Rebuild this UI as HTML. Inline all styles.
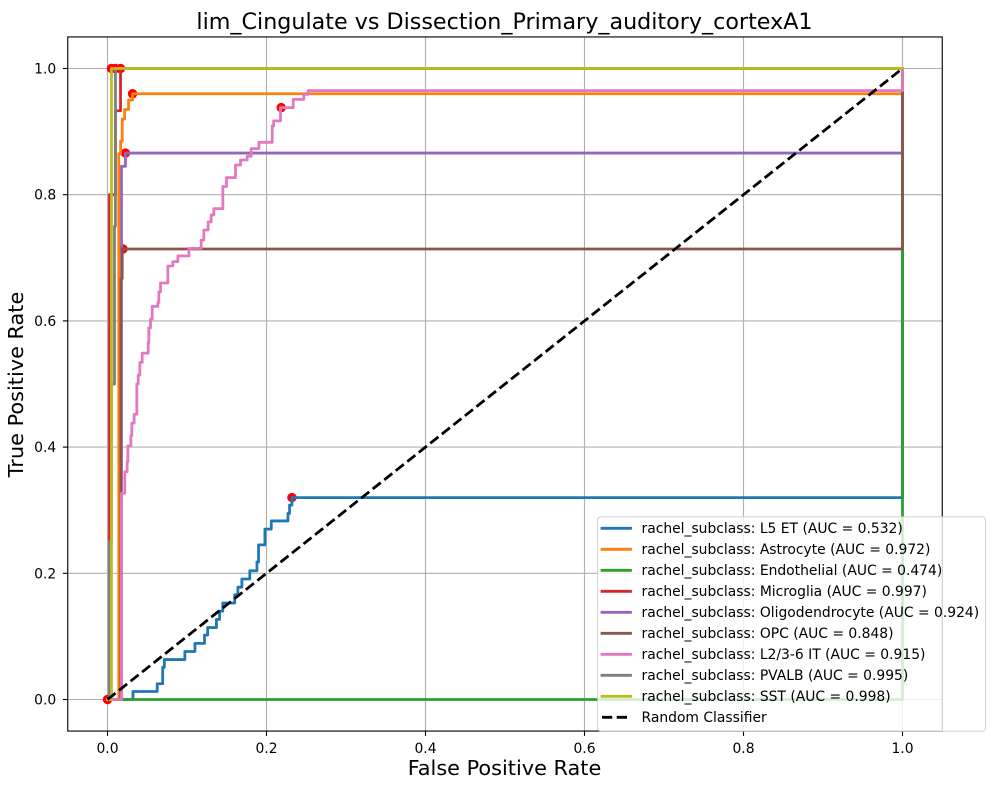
<!DOCTYPE html>
<html>
<head>
<meta charset="utf-8">
<title>lim_Cingulate vs Dissection_Primary_auditory_cortexA1</title>
<style>
html,body{margin:0;padding:0;background:#fff;}
svg{display:block;}
text{font-family:"DejaVu Sans","Liberation Sans",sans-serif;fill:#000;}
</style>
</head>
<body>
<svg id="chart" width="994" height="790" viewBox="0 0 994 790" xmlns="http://www.w3.org/2000/svg"></svg>
<script>
const xTicks = [0.0, 0.2, 0.4, 0.6, 0.8, 1.0];
const yTicks = [0.0, 0.2, 0.4, 0.6, 0.8, 1.0];

const l5Fpr = [0, 0.032, 0.0625, 0.0694, 0.0715, 0.0973, 0.11, 0.122, 0.126, 0.137, 0.141, 0.145, 0.16, 0.164, 0.169, 0.179, 0.188, 0.19, 0.198, 0.206, 0.227, 0.229, 0.232, 1, 1];
const l5Tpr = [0, 0.0127, 0.025, 0.051, 0.0633, 0.076, 0.089, 0.102, 0.114, 0.127, 0.14, 0.153, 0.166, 0.178, 0.191, 0.204, 0.218, 0.245, 0.27, 0.283, 0.295, 0.308, 0.32, 0.32, 1];
const astroFpr = [0, 0.0142, 0.0165, 0.0185, 0.0215, 0.0265, 0.0315, 1, 1];
const astroTpr = [0, 0.865, 0.885, 0.92, 0.935, 0.95, 0.96, 0.96, 1];
const endoFpr = [0, 1, 1];
const endoTpr = [0, 0, 1];
const microFpr = [0, 0.0025, 0.01, 0.0164, 1];
const microTpr = [0, 0.8, 0.933, 1, 1];
const oligoFpr = [0, 0.0176, 0.0226, 1, 1];
const oligoTpr = [0, 0.845, 0.866, 0.866, 1];
const opcFpr = [0, 0.0168, 0.0185, 1, 1];
const opcTpr = [0, 0.667, 0.714, 0.714, 1];
const itFpr = [0, 0.0176, 0.0218, 0.0247, 0.0256, 0.0294, 0.0306, 0.0335, 0.0369, 0.0386, 0.0407, 0.0436, 0.0512, 0.052, 0.0541, 0.0562, 0.0633, 0.0646, 0.0667, 0.0759, 0.0822, 0.0885, 0.1023, 0.1178, 0.1212, 0.1266, 0.1304, 0.1338, 0.1451, 0.1497, 0.161, 0.1673, 0.1757, 0.1807, 0.1904, 0.2072, 0.209, 0.2176, 0.2336, 0.2469, 0.2524, 1, 1];
const itTpr = [0, 0.327, 0.361, 0.377, 0.402, 0.418, 0.438, 0.452, 0.5, 0.514, 0.534, 0.549, 0.565, 0.589, 0.603, 0.623, 0.629, 0.646, 0.66, 0.687, 0.694, 0.703, 0.715, 0.728, 0.744, 0.757, 0.768, 0.778, 0.813, 0.827, 0.847, 0.855, 0.861, 0.873, 0.883, 0.909, 0.917, 0.938, 0.951, 0.959, 0.965, 0.965, 1];
const pvalbFpr = [0, 0.0025, 0.005, 0.0088, 0.01, 1];
const pvalbTpr = [0, 0.25, 0.5, 0.75, 1, 1];
const sstFpr = [0, 0.005, 1];
const sstTpr = [0, 1, 1];
const randomFpr = [0, 1];
const randomTpr = [0, 1];

const seriesNames = ["l5-et", "astrocyte", "endothelial", "microglia", "oligodendrocyte", "opc", "l2-3-6-it", "pvalb", "sst"];
const seriesLabels = ["rachel_subclass: L5 ET (AUC = 0.532)", "rachel_subclass: Astrocyte (AUC = 0.972)", "rachel_subclass: Endothelial (AUC = 0.474)", "rachel_subclass: Microglia (AUC = 0.997)", "rachel_subclass: Oligodendrocyte (AUC = 0.924)", "rachel_subclass: OPC (AUC = 0.848)", "rachel_subclass: L2/3-6 IT (AUC = 0.915)", "rachel_subclass: PVALB (AUC = 0.995)", "rachel_subclass: SST (AUC = 0.998)"];
const seriesColors = ["#1f77b4", "#ff7f0e", "#2ca02c", "#d62728", "#9467bd", "#8c564b", "#e377c2", "#7f7f7f", "#bcbd22"];
const seriesFpr = [l5Fpr, astroFpr, endoFpr, microFpr, oligoFpr, opcFpr, itFpr, pvalbFpr, sstFpr];
const seriesTpr = [l5Tpr, astroTpr, endoTpr, microTpr, oligoTpr, opcTpr, itTpr, pvalbTpr, sstTpr];
const optimalFpr = [0.232, 0.0315, 0, 0.0164, 0.0226, 0.0195, 0.2185, 0.01, 0.005];
const optimalTpr = [0.32, 0.96, 0, 1, 0.866, 0.714, 0.938, 1, 1];

const NS = "http://www.w3.org/2000/svg";
const svg = document.getElementById("chart");
const sx = v => 107.5 + 795 * v;
const sy = v => 699.5 - 631 * v;
const axL = sx(-0.05), axR = sx(1.05), axT = sy(1.05), axB = sy(-0.05);

function mk(tag, attrs, parent) {
  const el = document.createElementNS(NS, tag);
  for (const k in attrs) el.setAttribute(k, attrs[k]);
  (parent || svg).appendChild(el);
  return el;
}
function stepPath(xs, ys) {
  let d = "M" + sx(xs[0]) + " " + sy(ys[0]);
  for (let i = 1; i < xs.length; i++) {
    d += "L" + sx(xs[i]) + " " + sy(ys[i - 1]) + "L" + sx(xs[i]) + " " + sy(ys[i]);
  }
  return d;
}

/* background */
const bg = mk("rect", {x: 0, y: 0, width: 994, height: 790, fill: "#fff"});



/* grid */
xTicks.forEach(v => {
  const g = mk("line", {x1: sx(v), x2: sx(v), y1: axT, y2: axB, stroke: "#b0b0b0", "stroke-width": 1.11});
  
  
});
yTicks.forEach(v => {
  const g = mk("line", {x1: axL, x2: axR, y1: sy(v), y2: sy(v), stroke: "#b0b0b0", "stroke-width": 1.11});
  
  
});

/* optimal-threshold markers sit beneath the curves */
optimalFpr.forEach((v, i) => {
  const c = mk("circle", {cx: sx(v), cy: sy(optimalTpr[i]), r: 4.7, fill: "#ff0000"});
  
  
});

/* ROC curves */
seriesNames.forEach((name, i) => {
  const p = mk("path", {d: stepPath(seriesFpr[i], seriesTpr[i]), fill: "none", stroke: seriesColors[i], "stroke-width": 2.78, "stroke-linejoin": "round", "stroke-linecap": "square"});
  
  
});

/* random classifier */
const rnd = mk("line", {x1: sx(randomFpr[0]), y1: sy(randomTpr[0]), x2: sx(randomFpr[1]), y2: sy(randomTpr[1]), stroke: "#000", "stroke-width": 2.78, "stroke-dasharray": "10.28 4.44"});



/* spines */
const frame = mk("rect", {x: axL, y: axT, width: axR - axL, height: axB - axT, fill: "none", stroke: "#000", "stroke-width": 1.11});



/* ticks */
xTicks.forEach(v => {
  const t = mk("line", {x1: sx(v), x2: sx(v), y1: axB, y2: axB + 4.86, stroke: "#000", "stroke-width": 1.11});
  
  
  const l = mk("text", {x: sx(v), y: 753, "text-anchor": "middle", "font-size": 13.89});
  
  
  l.textContent = v.toFixed(1);
});
yTicks.forEach(v => {
  const t = mk("line", {x1: axL - 4.86, x2: axL, y1: sy(v), y2: sy(v), stroke: "#000", "stroke-width": 1.11});
  
  
  const l = mk("text", {x: axL - 11.5, y: sy(v) + 5, "text-anchor": "end", "font-size": 13.89});
  
  
  l.textContent = v.toFixed(1);
});

/* titles */
const title = mk("text", {x: 504.5, y: 29, "text-anchor": "middle", "font-size": 22.22});


title.textContent = "lim_Cingulate vs Dissection_Primary_auditory_cortexA1";
const xTitle = mk("text", {x: 504.5, y: 775, "text-anchor": "middle", "font-size": 20.83});


xTitle.textContent = "False Positive Rate";
const yTitle = mk("text", {x: 0, y: 0, "text-anchor": "middle", "font-size": 20.83, transform: "translate(23,384.5) rotate(-90)"});


yTitle.textContent = "True Positive Rate";

/* legend */
const legend = mk("g", {});


const box = mk("rect", {x: 597.5, y: 516.8, width: 388, height: 214.4, rx: 3.5, ry: 3.5, fill: "#fff", "fill-opacity": 0.8, stroke: "#cccccc", "stroke-opacity": 0.8, "stroke-width": 1.11}, legend);


seriesLabels.forEach((label, i) => {
  const rowY = 528.3 + 21 * i;
  const h = mk("line", {x1: 602, x2: 630.5, y1: rowY, y2: rowY, stroke: seriesColors[i], "stroke-width": 2.78, "stroke-linecap": "square"}, legend);
  
  
  const t = mk("text", {x: 641.5, y: rowY + 4.6, "font-size": 13.89}, legend);
  
  
  t.textContent = label;
});
const rndRow = 528.3 + 21 * 9;
const rh = mk("line", {x1: 602, x2: 630.5, y1: rndRow, y2: rndRow, stroke: "#000", "stroke-width": 2.78, "stroke-dasharray": "10.28 4.44"}, legend);


const rt = mk("text", {x: 641.5, y: rndRow + 4.6, "font-size": 13.89}, legend);


rt.textContent = "Random Classifier";
</script>
</body>
</html>
